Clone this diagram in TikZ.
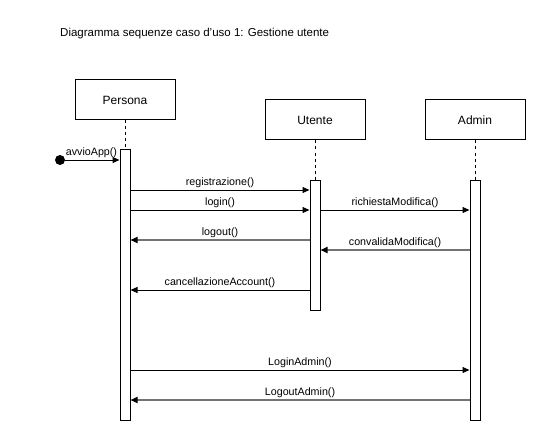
\documentclass[tikz,border=0pt]{standalone}
\usepackage{fontspec}
\setmainfont{Liberation Sans}
\usetikzlibrary{arrows.meta,positioning}
\tikzset{
  objbox/.style={rectangle, draw=black, fill=white, line width=1pt,
                 minimum width=100pt, minimum height=40pt, inner sep=0pt,
                 font=\fontsize{12}{14}\selectfont},
  actbar/.style={rectangle, draw=black, fill=white, line width=1pt,
                 minimum width=10pt, inner sep=0pt},
  lifeline/.style={line width=0.8pt, dash pattern=on 3pt off 3pt},
  msg/.style={-{Triangle[length=7pt,width=6pt,color=black]}, line width=1pt},
  retmsg/.style={msg, draw=black!55, line width=1.6pt},
  msglabel/.style={font=\fontsize{10.7}{12}\selectfont, inner sep=1.5pt, anchor=south},
}

\begin{document}
\begin{tikzpicture}[
    x=1pt,
    y=-1pt,
  ]
    \useasboundingbox[fill=white] (0,0) rectangle (546,441);

    % Title
    \node[anchor=west, inner sep=0pt, font=\fontsize{11.5}{13}\selectfont] (title) at (60,34)
      {Diagramma sequenze caso d'uso 1: Gestione utente};

    % Objects
    \node[objbox] (persona) at (125,100) {Persona};
    \node[objbox] (utente) at (315,120) {Utente};
    \node[objbox] (admin) at (475,120) {Admin};

    % Activation bars
    \node[actbar, minimum height=270pt] (persona_act) at (125,285) {};
    \node[actbar, minimum height=130pt] (utente_act) at (315,245) {};
    \node[actbar, minimum height=240pt] (admin_act) at (475,300) {};

    % Lifelines
    \draw[lifeline] (persona) -- (persona_act);
    \draw[lifeline] (utente) -- (utente_act);
    \draw[lifeline] (admin) -- (admin_act);

    % Found message
    \node[circle, fill=black, minimum size=10pt, inner sep=0pt] (start) at (60,160) {};
    \draw[msg] (start) -- (persona_act.west |- start);
    \node[msglabel, anchor=south west, inner sep=0.5pt, yshift=2pt] (avvio_lbl) at (start.east) {avvioApp()};

    % Persona <-> Utente
    \draw[msg] (persona_act.east |- 0,190) -- node[msglabel] {registrazione()} (utente_act.west |- 0,190);
    \draw[msg] (persona_act.east |- 0,210) -- node[msglabel] {login()} (utente_act.west |- 0,210);
    \draw[retmsg] (utente_act.west |- 0,240) -- node[msglabel] {logout()} (persona_act.east |- 0,240);
    \draw[msg] (utente_act.west |- 0,290) -- node[msglabel] {cancellazioneAccount()} (persona_act.east |- 0,290);

    % Utente <-> Admin
    \draw[msg] (utente_act.east |- 0,210) -- node[msglabel] {richiestaModifica()} (admin_act.west |- 0,210);
    \draw[retmsg] (admin_act.west |- 0,250) -- node[msglabel] {convalidaModifica()} (utente_act.east |- 0,250);

    % Persona <-> Admin
    \draw[msg] (persona_act.east |- 0,370) -- node[msglabel] {LoginAdmin()} (admin_act.west |- 0,370);
    \draw[retmsg] (admin_act.west |- 0,400) -- node[msglabel] {LogoutAdmin()} (persona_act.east |- 0,400);
  \end{tikzpicture}
\end{document}
